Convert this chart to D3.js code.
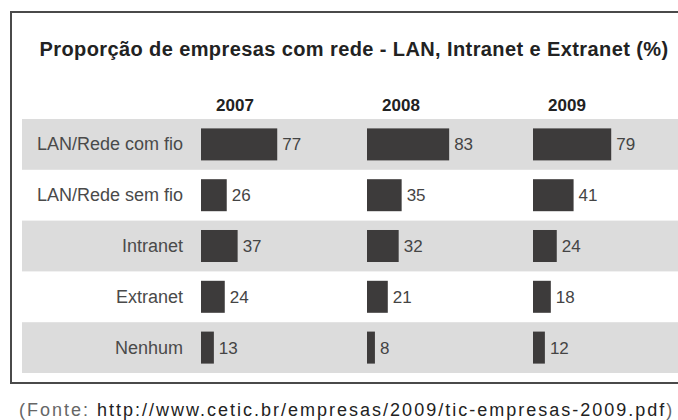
<!DOCTYPE html>
<html>
<head>
<meta charset="utf-8">
<script src="https://cdn.jsdelivr.net/npm/d3@7"></script>
<style>
  html, body { margin: 0; padding: 0; background: #fff; }
  svg { display: block; }
</style>
</head>
<body>
<svg id="chart" width="678" height="420"></svg>
<script>
// Proporção de empresas com rede, por tipo de rede e ano (%)
const categories = ["LAN/Rede com fio", "LAN/Rede sem fio", "Intranet", "Extranet", "Nenhum"];
const years = ["2007", "2008", "2009"];
const values2007 = [77, 26, 37, 24, 13];
const values2008 = [83, 35, 32, 21, 8];
const values2009 = [79, 41, 24, 18, 12];
const titleText = "Proporção de empresas com rede - LAN, Intranet e Extranet (%)";
const sourcePrefix = "(Fonte: ";
const sourceUrl = "http://www.cetic.br/empresas/2009/tic-empresas-2009.pdf";
const sourceSuffix = ")";

const seriesByYear = { "2007": values2007, "2008": values2008, "2009": values2009 };

const svg = d3.select("#chart");
const W = 678;
const FONT = "Liberation Sans, Arial, sans-serif";

// Moldura
svg.append("rect")
  .attr("x", 11).attr("y", 12)
  .attr("width", 700).attr("height", 371)
  .attr("fill", "none")
  .attr("stroke", "#4a4a4a")
  .attr("stroke-width", 2);

// Escalas
const y = d3.scaleBand().domain(categories).range([119, 373]);
const barH = y.bandwidth() * 0.63;
const col = d3.scaleBand().domain(years).range([201, 699]);
const w = d3.scaleLinear().domain([0, 100]).range([0, 99]);

// Faixas alternadas
svg.append("g").selectAll("rect")
  .data(categories.filter((c, i) => i % 2 === 0))
  .join("rect")
  .attr("x", 22)
  .attr("y", d => y(d))
  .attr("width", W - 22)
  .attr("height", y.bandwidth())
  .attr("fill", "#dcdcdc");

// Título
svg.append("text")
  .attr("x", 354).attr("y", 56)
  .attr("text-anchor", "middle")
  .attr("font-family", FONT)
  .attr("font-weight", "bold")
  .attr("font-size", 20)
  .attr("letter-spacing", 0.4)
  .attr("fill", "#222")
  .text(titleText);

// Cabeçalhos dos anos
svg.append("g").selectAll("text")
  .data(years)
  .join("text")
  .attr("x", d => col(d) + 34)
  .attr("y", 111)
  .attr("text-anchor", "middle")
  .attr("font-family", FONT)
  .attr("font-weight", "bold")
  .attr("font-size", 17)
  .attr("fill", "#222")
  .text(d => d);

// Rótulos das categorias
svg.append("g").selectAll("text")
  .data(categories)
  .join("text")
  .attr("x", 183)
  .attr("y", d => y(d) + y.bandwidth() / 2 + 6)
  .attr("text-anchor", "end")
  .attr("font-family", FONT)
  .attr("font-size", 18)
  .attr("fill", "#4a4a4a")
  .text(d => d);

// Barras e valores
const cells = [];
years.forEach(yr => {
  seriesByYear[yr].forEach((v, i) => cells.push({ year: yr, cat: categories[i], value: v }));
});

const g = svg.append("g");
g.selectAll("rect")
  .data(cells)
  .join("rect")
  .attr("x", d => col(d.year))
  .attr("y", d => y(d.cat) + (y.bandwidth() - barH) / 2)
  .attr("width", d => w(d.value))
  .attr("height", barH)
  .attr("fill", "#3d3b3b");

g.selectAll("text")
  .data(cells)
  .join("text")
  .attr("x", d => col(d.year) + w(d.value) + 5)
  .attr("y", d => y(d.cat) + y.bandwidth() / 2 + 6)
  .attr("font-family", FONT)
  .attr("font-size", 17)
  .attr("fill", "#444")
  .text(d => d.value);

// Fonte
const src = svg.append("text")
  .attr("x", 19).attr("y", 416)
  .attr("font-family", FONT)
  .attr("font-size", 18)
  .attr("letter-spacing", 2);
src.append("tspan").attr("fill", "#666").text(sourcePrefix);
src.append("tspan").attr("fill", "#222").text(sourceUrl);
src.append("tspan").attr("fill", "#666").text(sourceSuffix);
</script>
</body>
</html>
